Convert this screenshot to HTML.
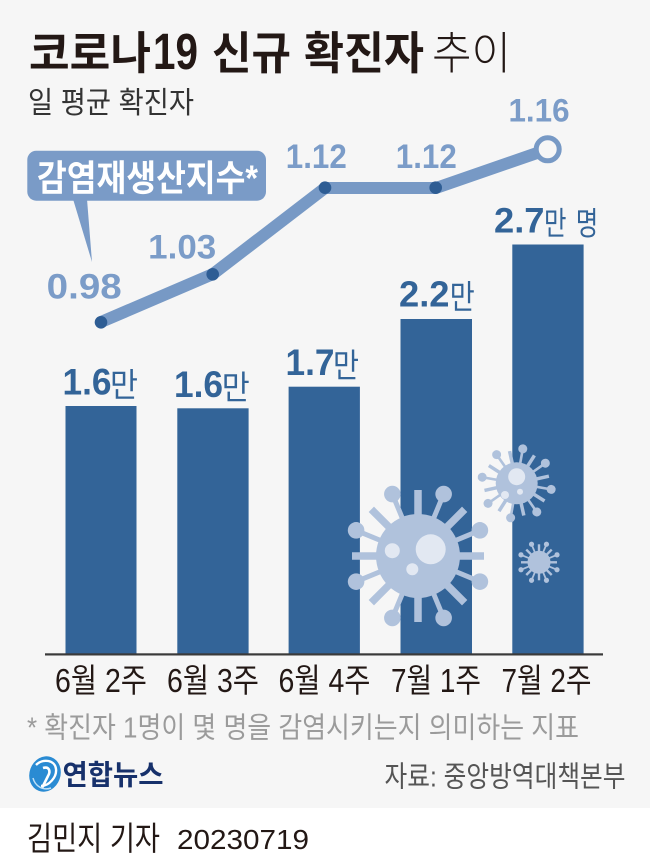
<!DOCTYPE html>
<html>
<head>
<meta charset="utf-8">
<style>
  html,body{margin:0;padding:0;background:#ffffff;}
  svg{display:block;}
  text{font-family:"Liberation Sans","Noto Sans CJK KR",sans-serif;}
</style>
</head>
<body>
<svg width="650" height="868" viewBox="0 0 650 868" xmlns="http://www.w3.org/2000/svg">
  <!-- backgrounds -->
  <rect x="0" y="0" width="650" height="808" fill="#f6f6f6"/>
  <rect x="0" y="808" width="650" height="60" fill="#ffffff"/>

  <!-- title -->
  <text x="29" y="69" font-size="45" font-weight="bold" fill="#231815" textLength="122" lengthAdjust="spacingAndGlyphs">코로나</text>
  <text x="153" y="69" font-size="51" font-weight="bold" fill="#231815" textLength="45" lengthAdjust="spacingAndGlyphs">19</text>
  <text x="212" y="69" font-size="45" font-weight="bold" fill="#231815" textLength="79" lengthAdjust="spacingAndGlyphs">신규</text>
  <text x="304" y="69" font-size="45" font-weight="bold" fill="#231815" textLength="120" lengthAdjust="spacingAndGlyphs">확진자</text>
  <text x="432" y="69" font-size="45" font-weight="300" fill="#231815" textLength="79" lengthAdjust="spacingAndGlyphs">추이</text>

  <!-- subtitle -->
  <text x="28" y="113" font-size="30" fill="#333333" textLength="166" lengthAdjust="spacingAndGlyphs">일 평균 확진자</text>

  <!-- bars -->
  <g fill="#336498">
    <rect x="65.5" y="406" width="71" height="248"/>
    <rect x="177.3" y="408.3" width="71.3" height="245.7"/>
    <rect x="288.6" y="386.7" width="71.3" height="267.3"/>
    <rect x="400.5" y="319" width="71.5" height="335"/>
    <rect x="512.3" y="244.5" width="71.3" height="409.5"/>
  </g>
  <!-- axis -->
  <rect x="45" y="653.3" width="558" height="2.2" fill="#3a3a3a"/>

  <!-- viruses -->
  <g fill="#b0c2dc" stroke="#b0c2dc">
    <!-- big virus -->
    <g transform="translate(418,556)">
      <g stroke-width="7.5">
        <line x1="0" y1="0" x2="0" y2="-66"/>
        <line x1="0" y1="0" x2="0" y2="-66" transform="rotate(45)"/>
        <line x1="0" y1="0" x2="0" y2="-66" transform="rotate(90)"/>
        <line x1="0" y1="0" x2="0" y2="-66" transform="rotate(135)"/>
        <line x1="0" y1="0" x2="0" y2="-66" transform="rotate(180)"/>
        <line x1="0" y1="0" x2="0" y2="-66" transform="rotate(225)"/>
        <line x1="0" y1="0" x2="0" y2="-66" transform="rotate(270)"/>
        <line x1="0" y1="0" x2="0" y2="-66" transform="rotate(315)"/>
      </g>
      <g stroke-width="5">
        <g transform="rotate(22.5)"><line x1="0" y1="0" x2="0" y2="-62"/><circle cx="0" cy="-67" r="8.3" stroke="none"/></g>
        <g transform="rotate(67.5)"><line x1="0" y1="0" x2="0" y2="-62"/><circle cx="0" cy="-67" r="8.3" stroke="none"/></g>
        <g transform="rotate(112.5)"><line x1="0" y1="0" x2="0" y2="-62"/><circle cx="0" cy="-67" r="8.3" stroke="none"/></g>
        <g transform="rotate(157.5)"><line x1="0" y1="0" x2="0" y2="-62"/><circle cx="0" cy="-67" r="8.3" stroke="none"/></g>
        <g transform="rotate(202.5)"><line x1="0" y1="0" x2="0" y2="-62"/><circle cx="0" cy="-67" r="8.3" stroke="none"/></g>
        <g transform="rotate(247.5)"><line x1="0" y1="0" x2="0" y2="-62"/><circle cx="0" cy="-67" r="8.3" stroke="none"/></g>
        <g transform="rotate(292.5)"><line x1="0" y1="0" x2="0" y2="-62"/><circle cx="0" cy="-67" r="8.3" stroke="none"/></g>
        <g transform="rotate(337.5)"><line x1="0" y1="0" x2="0" y2="-62"/><circle cx="0" cy="-67" r="8.3" stroke="none"/></g>
      </g>
      <circle cx="0" cy="0" r="42" stroke="none"/>
      <circle cx="12.7" cy="-6.7" r="15" fill="#e2e8f2" stroke="none"/>
      <circle cx="-25.7" cy="-5.3" r="7.5" fill="#e2e8f2" stroke="none"/>
      <circle cx="-5.7" cy="13.3" r="6" fill="#e2e8f2" stroke="none"/>
    </g>

    <!-- medium virus -->
    <g transform="translate(516.7,483.3)">
      <g stroke-width="3.5">
        <line x1="0" y1="0" x2="0" y2="-33" transform="rotate(32.5)"/>
        <line x1="0" y1="0" x2="0" y2="-33" transform="rotate(77.5)"/>
        <line x1="0" y1="0" x2="0" y2="-33" transform="rotate(122.5)"/>
        <line x1="0" y1="0" x2="0" y2="-33" transform="rotate(167.5)"/>
        <line x1="0" y1="0" x2="0" y2="-33" transform="rotate(212.5)"/>
        <line x1="0" y1="0" x2="0" y2="-33" transform="rotate(257.5)"/>
        <line x1="0" y1="0" x2="0" y2="-33" transform="rotate(302.5)"/>
        <line x1="0" y1="0" x2="0" y2="-33" transform="rotate(347.5)"/>
      </g>
      <g stroke-width="2.6">
        <g transform="rotate(10)"><line x1="0" y1="0" x2="0" y2="-32"/><circle cx="0" cy="-35" r="4.5" stroke="none"/></g>
        <g transform="rotate(55)"><line x1="0" y1="0" x2="0" y2="-32"/><circle cx="0" cy="-35" r="4.5" stroke="none"/></g>
        <g transform="rotate(100)"><line x1="0" y1="0" x2="0" y2="-32"/><circle cx="0" cy="-35" r="4.5" stroke="none"/></g>
        <g transform="rotate(145)"><line x1="0" y1="0" x2="0" y2="-32"/><circle cx="0" cy="-35" r="4.5" stroke="none"/></g>
        <g transform="rotate(190)"><line x1="0" y1="0" x2="0" y2="-32"/><circle cx="0" cy="-35" r="4.5" stroke="none"/></g>
        <g transform="rotate(235)"><line x1="0" y1="0" x2="0" y2="-32"/><circle cx="0" cy="-35" r="4.5" stroke="none"/></g>
        <g transform="rotate(280)"><line x1="0" y1="0" x2="0" y2="-32"/><circle cx="0" cy="-35" r="4.5" stroke="none"/></g>
        <g transform="rotate(325)"><line x1="0" y1="0" x2="0" y2="-32"/><circle cx="0" cy="-35" r="4.5" stroke="none"/></g>
      </g>
      <circle cx="0" cy="0" r="21" stroke="none"/>
      <circle cx="0" cy="-6.6" r="8.5" fill="#e2e8f2" stroke="none"/>
      <circle cx="-11.7" cy="11.7" r="4" fill="#e2e8f2" stroke="none"/>
      <circle cx="3.3" cy="8.4" r="3" fill="#e2e8f2" stroke="none"/>
    </g>

    <!-- small virus -->
    <g transform="translate(539,562.3)">
      <g stroke-width="2.4">
        <line x1="0" y1="0" x2="0" y2="-18" transform="rotate(0)"/>
        <line x1="0" y1="0" x2="0" y2="-18" transform="rotate(45)"/>
        <line x1="0" y1="0" x2="0" y2="-18" transform="rotate(90)"/>
        <line x1="0" y1="0" x2="0" y2="-18" transform="rotate(135)"/>
        <line x1="0" y1="0" x2="0" y2="-18" transform="rotate(180)"/>
        <line x1="0" y1="0" x2="0" y2="-18" transform="rotate(225)"/>
        <line x1="0" y1="0" x2="0" y2="-18" transform="rotate(270)"/>
        <line x1="0" y1="0" x2="0" y2="-18" transform="rotate(315)"/>
      </g>
      <g stroke-width="1.8">
        <g transform="rotate(22.5)"><line x1="0" y1="0" x2="0" y2="-18"/><circle cx="0" cy="-19.5" r="2.6" stroke="none"/></g>
        <g transform="rotate(67.5)"><line x1="0" y1="0" x2="0" y2="-18"/><circle cx="0" cy="-19.5" r="2.6" stroke="none"/></g>
        <g transform="rotate(112.5)"><line x1="0" y1="0" x2="0" y2="-18"/><circle cx="0" cy="-19.5" r="2.6" stroke="none"/></g>
        <g transform="rotate(157.5)"><line x1="0" y1="0" x2="0" y2="-18"/><circle cx="0" cy="-19.5" r="2.6" stroke="none"/></g>
        <g transform="rotate(202.5)"><line x1="0" y1="0" x2="0" y2="-18"/><circle cx="0" cy="-19.5" r="2.6" stroke="none"/></g>
        <g transform="rotate(247.5)"><line x1="0" y1="0" x2="0" y2="-18"/><circle cx="0" cy="-19.5" r="2.6" stroke="none"/></g>
        <g transform="rotate(292.5)"><line x1="0" y1="0" x2="0" y2="-18"/><circle cx="0" cy="-19.5" r="2.6" stroke="none"/></g>
        <g transform="rotate(337.5)"><line x1="0" y1="0" x2="0" y2="-18"/><circle cx="0" cy="-19.5" r="2.6" stroke="none"/></g>
      </g>
      <circle cx="0" cy="0" r="11.5" stroke="none"/>
    </g>
  </g>

  <!-- bar labels -->
  <g fill="#336498">
    <text x="62.5" y="394.5" font-size="37" font-weight="bold" textLength="49" lengthAdjust="spacingAndGlyphs">1.6</text>
    <text x="110" y="396.5" font-size="33" textLength="28" lengthAdjust="spacingAndGlyphs">만</text>

    <text x="174" y="397" font-size="37" font-weight="bold" textLength="49" lengthAdjust="spacingAndGlyphs">1.6</text>
    <text x="221.7" y="399" font-size="33" textLength="28" lengthAdjust="spacingAndGlyphs">만</text>

    <text x="285.5" y="375" font-size="37" font-weight="bold" textLength="49" lengthAdjust="spacingAndGlyphs">1.7</text>
    <text x="333" y="377" font-size="33" textLength="26" lengthAdjust="spacingAndGlyphs">만</text>

    <text x="399" y="306.7" font-size="36" font-weight="bold" textLength="50.5" lengthAdjust="spacingAndGlyphs">2.2</text>
    <text x="449.7" y="308.7" font-size="33" textLength="25" lengthAdjust="spacingAndGlyphs">만</text>

    <text x="494" y="232.3" font-size="35" font-weight="bold" textLength="50.5" lengthAdjust="spacingAndGlyphs">2.7</text>
    <text x="544" y="234.3" font-size="32" textLength="22.5" lengthAdjust="spacingAndGlyphs">만</text>
    <text x="575.7" y="234.3" font-size="32" textLength="22.5" lengthAdjust="spacingAndGlyphs">명</text>
  </g>

  <!-- callout -->
  <rect x="27.3" y="150.7" width="238.7" height="50" rx="9" ry="9" fill="#7a9bc7"/>
  <polygon points="73,199 87,199 92,262" fill="#7a9bc7"/>
  <text x="37" y="190.5" font-size="36" font-weight="bold" fill="#ffffff" textLength="221" lengthAdjust="spacingAndGlyphs">감염재생산지수*</text>

  <!-- line series -->
  <polyline points="101,322 213,274 325,188 436,188 547.7,149.3" fill="none" stroke="#7799c5" stroke-width="12" stroke-linecap="round" stroke-linejoin="round"/>
  <g fill="#2e5d94">
    <circle cx="101" cy="322.3" r="6.3"/>
    <circle cx="212.7" cy="274.3" r="6.3"/>
    <circle cx="325" cy="187.7" r="6.3"/>
    <circle cx="435.7" cy="187.7" r="6.3"/>
  </g>
  <circle cx="547.7" cy="149.3" r="11.5" fill="#f6f6f6" stroke="#7799c5" stroke-width="5"/>

  <!-- line labels -->
  <g fill="#7b9cc8" font-weight="bold">
    <text x="46.7" y="298.3" font-size="35" textLength="75" lengthAdjust="spacingAndGlyphs">0.98</text>
    <text x="148.2" y="258.3" font-size="34" textLength="68" lengthAdjust="spacingAndGlyphs">1.03</text>
    <text x="285.8" y="168" font-size="34" textLength="61" lengthAdjust="spacingAndGlyphs">1.12</text>
    <text x="395.8" y="168" font-size="34" textLength="61" lengthAdjust="spacingAndGlyphs">1.12</text>
    <text x="508.5" y="121.7" font-size="32" textLength="61" lengthAdjust="spacingAndGlyphs">1.16</text>
  </g>

  <!-- x labels -->
  <g fill="#231815" font-size="33" text-anchor="middle">
    <text x="101" y="692" textLength="92" lengthAdjust="spacingAndGlyphs">6월 2주</text>
    <text x="213" y="692" textLength="92" lengthAdjust="spacingAndGlyphs">6월 3주</text>
    <text x="324.5" y="692" textLength="92" lengthAdjust="spacingAndGlyphs">6월 4주</text>
    <text x="436" y="692" textLength="90" lengthAdjust="spacingAndGlyphs">7월 1주</text>
    <text x="546.5" y="692" textLength="90" lengthAdjust="spacingAndGlyphs">7월 2주</text>
  </g>

  <!-- footnote -->
  <text x="27" y="737.5" font-size="29" fill="#9b9b9b" textLength="552" lengthAdjust="spacingAndGlyphs">* 확진자 1명이 몇 명을 감염시키는지 의미하는 지표</text>

  <!-- logo -->
  <g transform="translate(45,774)">
    <ellipse cx="0" cy="0" rx="15.5" ry="18" transform="rotate(20)" fill="#2a8bd3"/>
    <path d="M -9,-9 C -2,-16 10,-14 11,-5 C 12,3 4,12 -4,12" fill="none" stroke="#ffffff" stroke-width="2.4"/>
    <path d="M -2,-6 C 4,-8 6,-3 3,2 L -3,14" fill="none" stroke="#ffffff" stroke-width="2.6"/>
    <path d="M -12,4 C -10,12 -2,17 6,14" fill="none" stroke="#bfe0f7" stroke-width="1.5"/>
  </g>
  <text x="62.5" y="784.5" font-size="28" font-weight="bold" fill="#17316b" textLength="101" lengthAdjust="spacingAndGlyphs">연합뉴스</text>

  <!-- source -->
  <text x="384.5" y="786.5" font-size="29" fill="#555555" textLength="241" lengthAdjust="spacingAndGlyphs">자료: 중앙방역대책본부</text>

  <!-- byline -->
  <text x="27" y="850" font-size="33" fill="#231815" textLength="133" lengthAdjust="spacingAndGlyphs">김민지 기자</text>
  <text x="177" y="849" font-size="28" fill="#231815" textLength="132" lengthAdjust="spacingAndGlyphs">20230719</text>
</svg>
</body>
</html>
